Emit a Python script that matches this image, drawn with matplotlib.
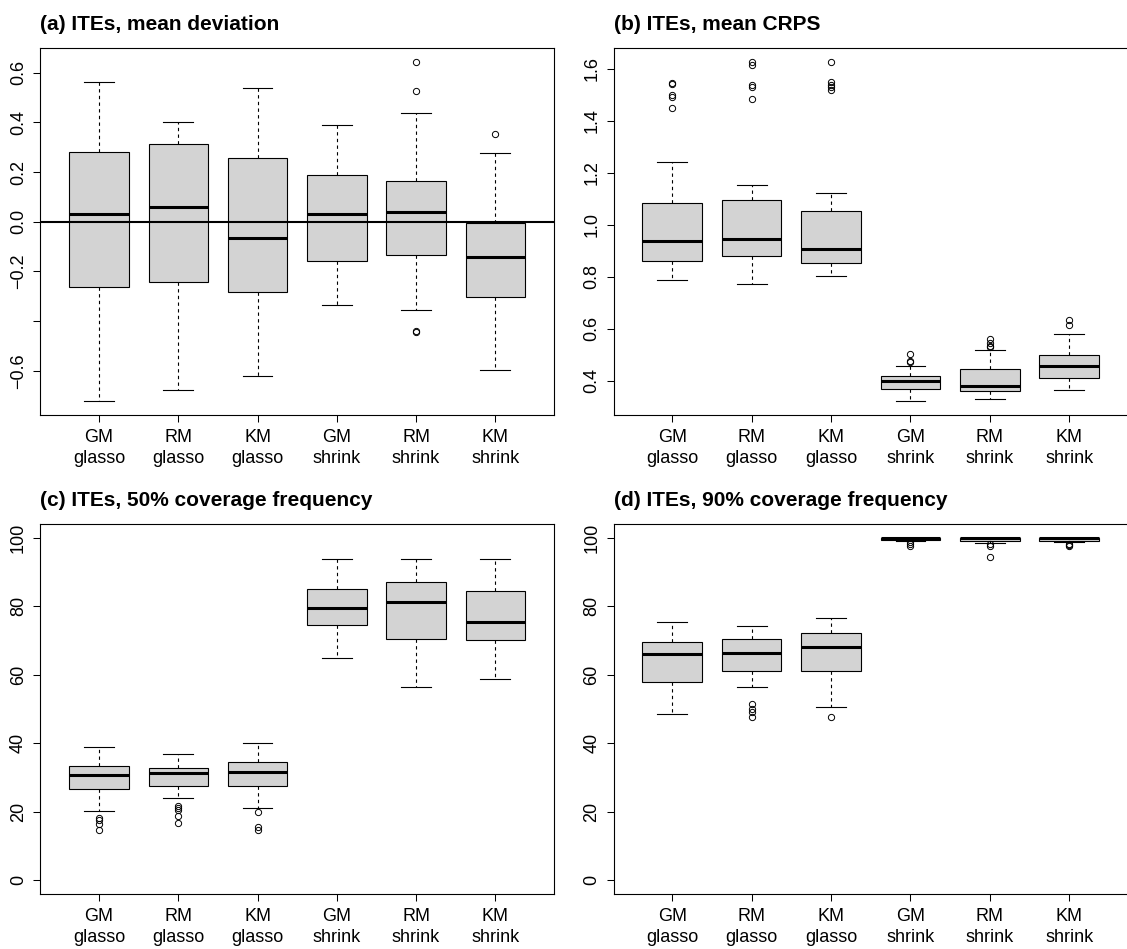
import matplotlib
matplotlib.use("Agg")
import matplotlib.pyplot as plt
import numpy as np

plt.rcParams["font.family"] = ["Liberation Sans", "DejaVu Sans"]

labels = ["GM\nglasso", "RM\nglasso", "KM\nglasso", "GM\nshrink", "RM\nshrink", "KM\nshrink"]

# (a) mean deviation of ITEs
dev_lo = [-0.723, -0.679, -0.620, -0.333, -0.355, -0.595]
dev_q1 = [-0.261, -0.244, -0.281, -0.159, -0.133, -0.304]
dev_med = [0.033, 0.059, -0.065, 0.033, 0.040, -0.140]
dev_q3 = [0.280, 0.312, 0.256, 0.189, 0.163, -0.003]
dev_hi = [0.564, 0.403, 0.537, 0.391, 0.439, 0.276]
dev_out = [[], [], [], [], [0.645, 0.527, -0.440, -0.445], [0.352]]

# (b) mean CRPS of ITEs
crps_lo = [0.789, 0.771, 0.801, 0.320, 0.331, 0.364]
crps_q1 = [0.859, 0.878, 0.852, 0.369, 0.361, 0.411]
crps_med = [0.939, 0.945, 0.906, 0.400, 0.381, 0.456]
crps_q3 = [1.084, 1.094, 1.054, 0.418, 0.443, 0.498]
crps_hi = [1.242, 1.152, 1.121, 0.456, 0.517, 0.581]
crps_out = [[1.547, 1.543, 1.498, 1.493, 1.450],
            [1.628, 1.613, 1.536, 1.532, 1.483],
            [1.628, 1.549, 1.539, 1.529, 1.517],
            [0.504, 0.476, 0.473],
            [0.561, 0.543, 0.535, 0.530],
            [0.634, 0.615]]

# (c) 50% coverage frequency
c50_lo = [20.35, 24.0, 21.2, 65.0, 56.3, 58.7]
c50_q1 = [26.6, 27.6, 27.6, 74.6, 70.3, 70.1]
c50_med = [30.8, 31.3, 31.5, 79.4, 81.2, 75.3]
c50_q3 = [33.4, 32.7, 34.4, 85.1, 87.1, 84.5]
c50_hi = [38.9, 36.8, 40.1, 93.9, 93.8, 93.9]
c50_out = [[18.3, 17.7, 16.3, 14.7], [21.6, 21.1, 20.4, 18.9, 16.6],
           [20.0, 15.5, 14.6], [], [], []]

# (d) 90% coverage frequency
c90_lo = [48.5, 56.3, 50.5, 99.0, 98.6, 98.8]
c90_q1 = [58.0, 61.1, 61.2, 99.4, 99.0, 99.1]
c90_med = [66.0, 66.4, 68.0, 99.8, 100.0, 100.0]
c90_q3 = [69.5, 70.4, 72.2, 100.0, 100.0, 100.0]
c90_hi = [75.3, 74.3, 76.6, 100.0, 100.0, 100.0]
c90_out = [[], [51.5, 50.0, 49.1, 47.6], [47.6],
           [98.7, 98.3, 97.6], [98.2, 97.6, 94.4], [98.2, 97.9, 97.6]]

W, H = 1127, 949
fig = plt.figure(figsize=(W / 100, H / 100), dpi=100)


def px_axes(left, right, top, bottom):
    return fig.add_axes([left / W, 1 - bottom / H, (right - left) / W, (bottom - top) / H])


def padded(lo, hi, frac=0.04):
    r = hi - lo
    return lo - frac * r, hi + frac * r


def panel(ax, title, lo, q1, med, q3, hi, out, ylim=None, yticks=None, yticklabels=None):
    stats = []
    for i in range(len(labels)):
        stats.append(dict(whislo=lo[i], q1=q1[i], med=med[i], q3=q3[i],
                          whishi=hi[i], fliers=out[i]))
    ax.bxp(stats, positions=np.arange(1, len(labels) + 1), widths=0.75,
           patch_artist=True, showfliers=True, capwidths=0.375,
           boxprops=dict(facecolor="#d3d3d3", edgecolor="black", linewidth=0.8),
           medianprops=dict(color="black", linewidth=2.2, solid_capstyle="butt"),
           whiskerprops=dict(color="black", linewidth=0.8, linestyle=(0, (3, 3))),
           capprops=dict(color="black", linewidth=0.8),
           flierprops=dict(marker="o", markersize=4.5, markerfacecolor="none",
                           markeredgecolor="black", markeredgewidth=0.7))
    if ylim is None:
        allv = list(lo) + list(hi) + [v for o in out for v in o]
        ylim = padded(min(allv), max(allv))
    else:
        ylim = padded(*ylim)
    ax.set_ylim(*ylim)
    ax.set_xlim(*padded(0.5, len(labels) + 0.5))
    ax.set_xticks(np.arange(1, len(labels) + 1))
    ax.set_xticklabels(labels, fontsize=13, linespacing=1.3)
    if yticks is not None:
        ax.set_yticks(yticks)
        ax.set_yticklabels(yticklabels)
    ax.tick_params(axis="both", direction="out", length=5, width=0.75,
                   color="black", labelsize=13)
    ax.tick_params(axis="x", pad=5)
    ax.tick_params(axis="y", pad=4.5, labelrotation=90)
    for t in ax.get_yticklabels():
        t.set_va("center")
    for s in ax.spines.values():
        s.set_linewidth(0.8)
        s.set_color("black")
    ax.set_title(title, loc="left", fontweight="bold", fontsize=15, pad=13)


top1, bot1 = 48, 415
top2, bot2 = 524, 894
xl1, xr1 = 40.3, 554
xl2, xr2 = 613.5, 1128

axa = px_axes(xl1, xr1, top1, bot1)
dev_ticks = [-0.6, -0.4, -0.2, 0.0, 0.2, 0.4, 0.6]
dev_tl = ["\u22120.6", "", "\u22120.2", "0.0", "0.2", "0.4", "0.6"]
panel(axa, "(a) ITEs, mean deviation", dev_lo, dev_q1, dev_med, dev_q3, dev_hi, dev_out,
      yticks=dev_ticks, yticklabels=dev_tl)
axa.axhline(0, color="black", linewidth=1.5, zorder=5)

axb = px_axes(xl2, xr2, top1, bot1)
crps_ticks = [0.4, 0.6, 0.8, 1.0, 1.2, 1.4, 1.6]
panel(axb, "(b) ITEs, mean CRPS", crps_lo, crps_q1, crps_med, crps_q3, crps_hi, crps_out,
      yticks=crps_ticks, yticklabels=[f"{v:.1f}" for v in crps_ticks])

cov_ticks = [0, 20, 40, 60, 80, 100]
axc = px_axes(xl1, xr1, top2, bot2)
panel(axc, "(c) ITEs, 50% coverage frequency", c50_lo, c50_q1, c50_med, c50_q3, c50_hi, c50_out,
      ylim=(0, 100), yticks=cov_ticks, yticklabels=[str(v) for v in cov_ticks])

axd = px_axes(xl2, xr2, top2, bot2)
panel(axd, "(d) ITEs, 90% coverage frequency", c90_lo, c90_q1, c90_med, c90_q3, c90_hi, c90_out,
      ylim=(0, 100), yticks=cov_ticks, yticklabels=[str(v) for v in cov_ticks])

fig.savefig("out.png", dpi=100)
